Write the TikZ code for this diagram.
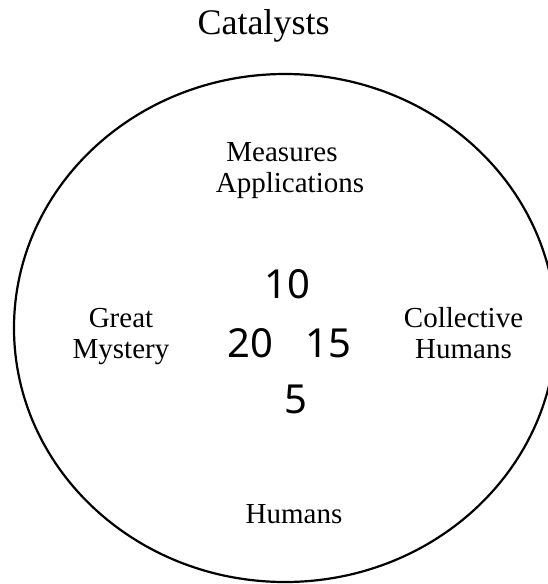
\documentclass[tikz,border=0pt]{standalone}
\usepackage{fontspec}
\setmainfont{Liberation Serif}
\newfontfamily\numfont{Noto Sans}
\usetikzlibrary{shapes.geometric}
\tikzset{
  lbl/.style={inner sep=0pt, align=center, anchor=base, font=\fontsize{29}{31}\selectfont},
  num/.style={inner sep=0pt, anchor=base, font=\numfont\fontsize{40}{44}\selectfont},
  ring/.style={draw, ellipse, line width=2.2pt, inner sep=0pt, minimum width=542pt, minimum height=508pt}
}
\begin{document}
\begin{tikzpicture}[x=1pt,y=1pt]
\useasboundingbox (0,0) rectangle (548,-584);
\clip (0,0) rectangle (548,-584);
\node[ring] (circle) at (285,-328) {};
\node[lbl, font=\fontsize{36}{40}\selectfont] (title) at (263.5,-34) {Catalysts};
\node[lbl] (measures) at (290,-192) {Measures\hspace*{16pt}\\Applications};
\node[lbl] (mystery) at (121,-358) {Great\\Mystery};
\node[lbl] (collective) at (463.5,-358) {Collective\\Humans};
\node[lbl] (humans) at (294,-523) {Humans};
\node[num] (n10) at (287.5,-298) {10};
\node[num] (n20) at (250,-357) {20};
\node[num] (n15) at (328.5,-357) {15};
\node[num] (n5) at (295.5,-413) {5};
\end{tikzpicture}
\end{document}
